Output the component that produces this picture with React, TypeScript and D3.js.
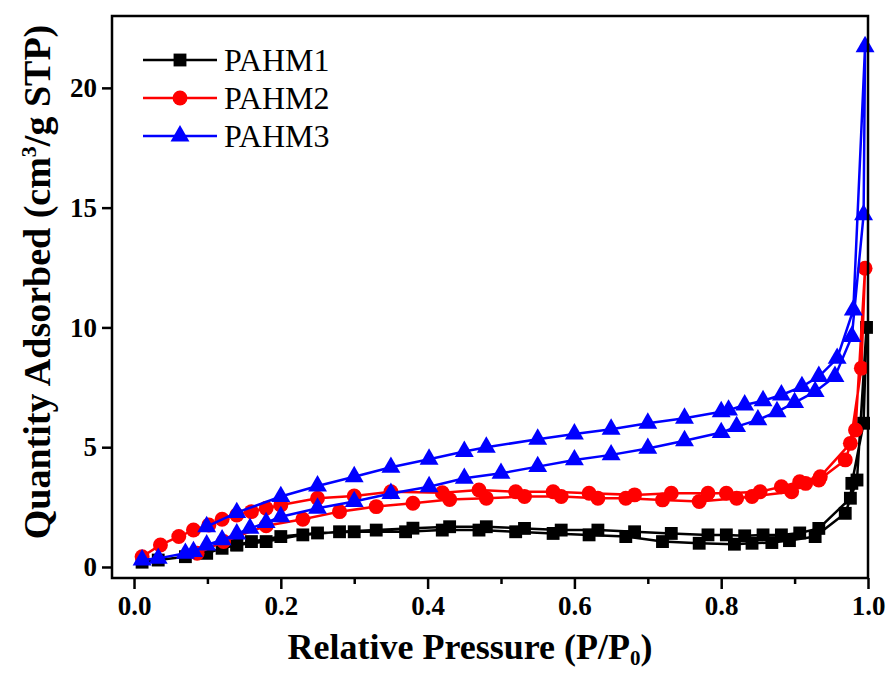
import React, { useEffect, useRef } from 'react';
import * as d3 from 'd3';

// PAHM1: adsorption branch then desorption branch
const pahm1P = [0.011, 0.033, 0.07, 0.099, 0.12, 0.14, 0.16, 0.2, 0.25, 0.3, 0.37, 0.42, 0.47, 0.52, 0.571, 0.62, 0.67, 0.72, 0.77, 0.818, 0.842, 0.869, 0.893, 0.928, 0.969, 0.985, 0.998,
  0.994, 0.978, 0.976, 0.933, 0.907, 0.882, 0.857, 0.832, 0.807, 0.782, 0.732, 0.682, 0.632, 0.582, 0.532, 0.48, 0.43, 0.38, 0.33, 0.28, 0.23, 0.18, 0.14];
const pahm1Q = [0.2, 0.29, 0.43, 0.57, 0.78, 0.92, 1.06, 1.27, 1.42, 1.47, 1.47, 1.54, 1.54, 1.47, 1.4, 1.34, 1.27, 1.06, 0.99, 0.95, 0.99, 1.02, 1.1, 1.27, 2.24, 3.63, 10.0,
  6.0, 3.49, 2.87, 1.61, 1.42, 1.34, 1.34, 1.3, 1.34, 1.34, 1.4, 1.47, 1.54, 1.54, 1.61, 1.68, 1.68, 1.62, 1.54, 1.47, 1.34, 1.06, 0.92];

const pahm2P = [0.011, 0.036, 0.061, 0.081, 0.102, 0.12, 0.14, 0.16, 0.18, 0.2, 0.25, 0.3, 0.35, 0.42, 0.47, 0.52, 0.571, 0.62, 0.682, 0.732, 0.782, 0.807, 0.853, 0.882, 0.907, 0.935, 0.976, 0.991, 0.996,
  0.983, 0.969, 0.933, 0.915, 0.896, 0.842, 0.821, 0.77, 0.72, 0.67, 0.632, 0.582, 0.532, 0.48, 0.43, 0.38, 0.33, 0.28, 0.23, 0.18, 0.122, 0.086];
const pahm2Q = [0.43, 0.92, 1.27, 1.54, 1.75, 1.99, 2.17, 2.31, 2.45, 2.59, 2.87, 2.96, 3.14, 3.1, 3.21, 3.14, 3.14, 3.08, 3.01, 3.08, 3.08, 3.08, 3.14, 3.35, 3.56, 3.77, 5.16, 8.3, 12.47,
  5.72, 4.47, 3.63, 3.49, 3.14, 2.94, 2.87, 2.73, 2.8, 2.87, 2.87, 2.94, 2.94, 2.87, 2.82, 2.66, 2.52, 2.31, 1.99, 1.72, 1.06, 0.57];

const pahm3P = [0.011, 0.033, 0.07, 0.081, 0.099, 0.12, 0.14, 0.158, 0.18, 0.2, 0.25, 0.3, 0.35, 0.402, 0.45, 0.5, 0.55, 0.6, 0.65, 0.7, 0.75, 0.8, 0.821, 0.85, 0.876, 0.9, 0.928, 0.955, 0.978, 0.994, 0.996,
  0.98, 0.958, 0.933, 0.91, 0.882, 0.857, 0.832, 0.81, 0.8, 0.75, 0.7, 0.65, 0.6, 0.55, 0.48, 0.45, 0.402, 0.35, 0.3, 0.25, 0.2, 0.14, 0.099];
const pahm3Q = [0.29, 0.36, 0.57, 0.64, 0.92, 1.13, 1.38, 1.61, 1.85, 2.1, 2.45, 2.73, 3.07, 3.35, 3.7, 3.91, 4.19, 4.47, 4.68, 4.95, 5.27, 5.61, 5.86, 6.14, 6.48, 6.86, 7.32, 7.95, 9.62, 14.7, 21.72,
  10.73, 8.71, 7.95, 7.53, 7.18, 6.94, 6.76, 6.55, 6.48, 6.21, 6.0, 5.75, 5.55, 5.33, 5.0, 4.82, 4.5, 4.16, 3.77, 3.38, 2.94, 2.27, 1.68];

const seriesNames = ['PAHM1', 'PAHM2', 'PAHM3'];
const seriesColors = ['#000000', '#ff0000', '#0000ff'];
const xTicks = [0, 0.2, 0.4, 0.6, 0.8, 1.0];
const xMinorTicks = [0.1, 0.3, 0.5, 0.7, 0.9];
const yTicks = [0, 5, 10, 15, 20];

const W = 892;
const H = 675;
const margin = { left: 112, top: 16, right: 24, bottom: 97 };

export default function App() {
  const ref = useRef<SVGSVGElement>(null);

  useEffect(() => {
    const svg = d3.select(ref.current);
    svg.selectAll('*').remove();

    const x = d3.scaleLinear().domain([-0.03, 1.0]).range([margin.left, W - margin.right]);
    const y = d3.scaleLinear().domain([-0.46, 23]).range([H - margin.bottom, margin.top]);
    const font = '"Liberation Serif", "Times New Roman", serif';

    const series = [
      { p: pahm1P, q: pahm1Q, sym: d3.symbolSquare, size: 165 },
      { p: pahm2P, q: pahm2Q, sym: d3.symbolCircle, size: 175 },
      { p: pahm3P, q: pahm3Q, sym: d3.symbolTriangle, size: 155 },
    ];

    const plot = svg.append('g');
    const line = d3.line<[number, number]>().x(d => x(d[0])).y(d => y(d[1]));

    series.forEach((s, i) => {
      const pts: [number, number][] = s.p.map((v, j) => [v, s.q[j]]);
      plot.append('path')
        .attr('d', line(pts))
        .attr('fill', 'none')
        .attr('stroke', seriesColors[i])
        .attr('stroke-width', 2.5);
      plot.selectAll(null)
        .data(pts)
        .enter()
        .append('path')
        .attr('d', d3.symbol().type(s.sym).size(s.size)())
        .attr('transform', d => `translate(${x(d[0])},${y(d[1])})`)
        .attr('fill', seriesColors[i]);
    });

    // frame
    svg.append('rect')
      .attr('x', margin.left)
      .attr('y', margin.top)
      .attr('width', W - margin.left - margin.right)
      .attr('height', H - margin.top - margin.bottom)
      .attr('fill', 'none')
      .attr('stroke', '#000')
      .attr('stroke-width', 2.5);

    const xAxis = svg.append('g')
      .attr('transform', `translate(0,${H - margin.bottom})`)
      .call(d3.axisBottom(x).tickValues(xTicks).tickSize(11).tickPadding(7).tickFormat(d3.format('.1f')));
    svg.append('g')
      .attr('transform', `translate(0,${H - margin.bottom})`)
      .call(d3.axisBottom(x).tickValues(xMinorTicks).tickSize(6).tickFormat(() => ''))
      .select('.domain').remove();

    const yAxis = svg.append('g')
      .attr('transform', `translate(${margin.left},0)`)
      .call(d3.axisLeft(y).tickValues(yTicks).tickSize(10).tickPadding(5));

    [xAxis, yAxis].forEach(a => {
      a.select('.domain').remove();
      a.selectAll('text').attr('font-family', font).attr('font-size', 27).attr('font-weight', 'bold').attr('fill', '#000');
    });
    svg.selectAll('.tick line').attr('stroke', '#000').attr('stroke-width', 2.5);

    // axis titles
    const xt = svg.append('text')
      .attr('x', 470).attr('y', 659)
      .attr('text-anchor', 'middle')
      .attr('font-family', font).attr('font-size', 36).attr('font-weight', 'bold');
    xt.append('tspan').text('Relative Pressure (P/P');
    xt.append('tspan').attr('font-size', 21).attr('dy', 6).text('0');
    xt.append('tspan').attr('dy', -6).text(')');

    const yt = svg.append('text')
      .attr('transform', `translate(50,${282}) rotate(-90)`)
      .attr('text-anchor', 'middle')
      .attr('font-family', font).attr('font-size', 38).attr('font-weight', 'bold');
    yt.append('tspan').text('Quantity Adsorbed (cm');
    yt.append('tspan').attr('font-size', 22).attr('dy', -14).text('3');
    yt.append('tspan').attr('dy', 14).text('/g STP)');

    // legend
    const legend = svg.append('g');
    seriesNames.forEach((name, i) => {
      const ly = 60 + i * 38;
      legend.append('line')
        .attr('x1', 143).attr('x2', 217).attr('y1', ly).attr('y2', ly)
        .attr('stroke', seriesColors[i]).attr('stroke-width', 2.5);
      legend.append('path')
        .attr('d', d3.symbol().type(series[i].sym).size(series[i].size)())
        .attr('transform', `translate(180,${ly})`)
        .attr('fill', seriesColors[i]);
      legend.append('text')
        .attr('x', 224).attr('y', ly + 11)
        .attr('font-family', font).attr('font-size', 32)
        .text(name);
    });
  }, []);

  return (
    <svg ref={ref} width={W} height={H} style={{ position: 'absolute', left: 0, top: 0, background: '#fff' }} />
  );
}
